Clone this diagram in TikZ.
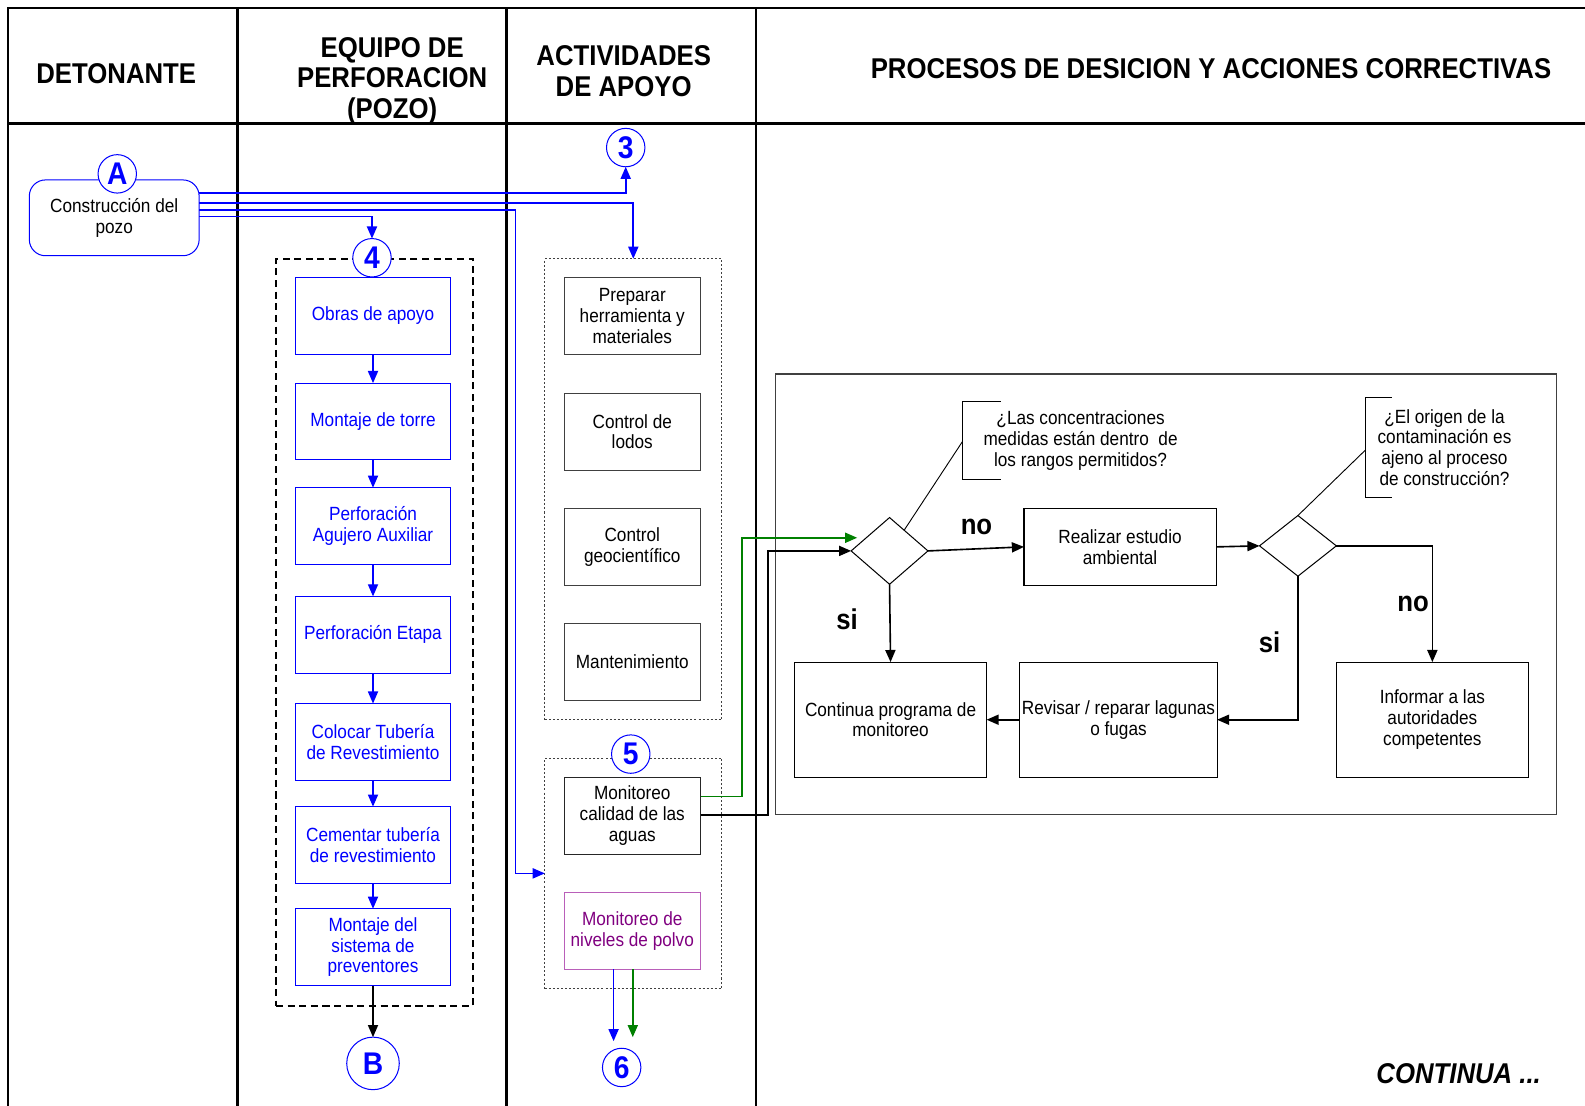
\documentclass[tikz,border=0pt]{standalone}
\usepackage{fontspec}
\setmainfont{Liberation Sans}[FakeStretch=0.9]
\usetikzlibrary{arrows.meta,calc,shapes.geometric}
\definecolor{fgreen}{RGB}{0,128,0}
\definecolor{purp}{RGB}{128,0,128}
\definecolor{purpb}{RGB}{185,95,185}
\begin{document}
\begin{tikzpicture}[x=1pt,y=-1pt,
  every node/.style={inner sep=0pt,outer sep=0pt},
  lane/.style={line width=2.4pt,line cap=rect},
  hdr/.style={font=\fontsize{28.3}{30.5}\selectfont\bfseries,align=center},
  lbl/.style={font=\fontsize{28.3}{30.5}\selectfont\bfseries},
  txt/.style={font=\fontsize{18.9}{20.5}\selectfont,align=center},
  bluebox/.style={draw=blue,line width=1pt,minimum width=154pt,minimum height=76pt,txt,text=blue},
  graybox/.style={draw=black!75,line width=1pt,minimum width=135pt,minimum height=76pt,txt},
  decbox/.style={draw=black,line width=1pt,minimum width=190pt,minimum height=114pt,txt},
  conn/.style={draw=blue,circle,fill=white,line width=1pt,minimum size=38pt,text=blue,font=\fontsize{31}{31}\selectfont\bfseries},
  dec/.style={draw=black,diamond,line width=1pt,minimum width=76pt,minimum height=66pt},
  dotbox/.style={draw=black!75,line width=0.8pt,dash pattern=on 2pt off 2pt},
  tip/.style={-{Triangle[length=12pt,width=10pt]}},
  bl/.style={draw=blue,line width=1.6pt,tip},
  bk/.style={draw=black,line width=1.6pt,tip},
  gr/.style={draw=fgreen,line width=1.6pt,tip},
]
\useasboundingbox (0,0) rectangle (1568,1094);
% lanes
\draw[lane] (8,8) -- (1568,8);
\draw[lane] (8,122) -- (1568,122);
\foreach \xx in {8,235,501,748} \draw[lane] (\xx,8) -- (\xx,1094);
% headers
\node[hdr] (h1) at (115,73) {DETONANTE};
\node[hdr] (h2) at (388,80) {EQUIPO DE\\PERFORACION\\(POZO)};
\node[hdr] (h3) at (617,70) {ACTIVIDADES\\DE APOYO};
\node[hdr] (h4) at (1198,68) {PROCESOS DE DESICION Y ACCIONES CORRECTIVAS};
% detonante
\node[draw=blue,line width=1pt,rounded corners=16pt,minimum width=168pt,minimum height=75pt,txt] (a) at (113,215.5) {Construcción del\\pozo};
\node[conn] (cA) at (116,172) {A};
% connectors
\node[conn] (c3) at (619,146) {3};
\node[draw=black,line width=1.8pt,dash pattern=on 7pt off 4.5pt,minimum width=195pt,minimum height=739pt] (eq) at (370.5,625.5) {};
\node[dotbox,minimum width=175pt,minimum height=456pt] (act1) at (626.5,484) {};
\node[dotbox,minimum width=175pt,minimum height=228pt] (act2) at (626.5,864) {};
\node[conn] (c4) at (368,255) {4};
\node[conn] (c5) at (624,746) {5};
\node[conn,minimum size=52pt] (cB) at (369,1052) {B};
\node[conn] (c6) at (615,1056) {6};
% blue boxes
\node[bluebox] (b1) at (369,312.5) {Obras de apoyo};
\node[bluebox] (b2) at (369,417) {Montaje de torre};
\node[bluebox] (b3) at (369,520.5) {Perforación\\Agujero Auxiliar};
\node[bluebox] (b4) at (369,628) {Perforación Etapa};
\node[bluebox] (b5) at (369,734) {Colocar Tubería\\de Revestimiento};
\node[bluebox] (b6) at (369,836) {Cementar tubería\\de revestimiento};
\node[bluebox] (b7) at (369,937) {Montaje del\\sistema de\\preventores};
\foreach \i/\j in {b1/b2,b2/b3,b3/b4,b4/b5,b5/b6,b6/b7} \draw[draw=blue,line width=1.4pt,tip] (\i.south) -- (\j.north);
\draw[bk,line width=1.4pt] (b7.south) -- (cB.north);
% activity boxes
\node[graybox] (g1) at (625.5,312.5) {Preparar\\herramienta y\\materiales};
\node[graybox] (g2) at (625.5,427) {Control de\\lodos};
\node[graybox] (g3) at (625.5,541) {Control\\geocientífico};
\node[graybox] (g4) at (625.5,655) {Mantenimiento};
\node[graybox,draw=black!85] (m) at (625.5,807) {Monitoreo\\calidad de las\\aguas};
\node[graybox,draw=purpb,text=purp] (p) at (625.5,921) {Monitoreo de\\niveles de polvo};
% lines from A
\draw[bl] ($(a.east)+(0,-24.5)$) -| (c3.south);
\draw[bl] ($(a.east)+(0,-14.5)$) -| (act1.north);
\draw[bl] ($(a.east)+(0,-7.5)$) -| ($(act2.west)+(-29,0)$) -- (act2.west);
\draw[bl] ($(a.east)+(0,-1.5)$) -| (c4.north);
% polvo arrows
\coordinate (pb) at ($(p.south)+(-18.5,0)$);
\coordinate (pg) at ($(p.south)+(0.5,0)$);
\coordinate (c6b) at ($(c6.north)+(0,-7)$);
\coordinate (c6g) at ($(c6.north)+(0,-11)$);
\draw[bl,line width=1.6pt] (pb) -- (pb |- c6b);
\draw[gr,line width=1.6pt] (pg) -- (pg |- c6g);
% decision frame
\node[draw=black!75,line width=1.2pt,minimum width=773pt,minimum height=436pt] (rf) at (1153.5,588) {};
\node[dec] (d1) at (880,545) {};
\node[dec,minimum height=60pt] (d2) at (1284,540) {};
\node[draw=black,line width=1pt,minimum width=190pt,minimum height=76pt,txt] (re) at (1108,541) {Realizar estudio\\ambiental};
\node[decbox] (cont) at (881,712) {Continua programa de\\monitoreo};
\node[decbox,minimum width=195pt] (rev) at (1106.5,712) {Revisar / reparar lagunas\\o fugas};
\node[decbox] (inf) at (1417,712) {Informar a las\\autoridades\\competentes};
% callouts
\node[txt] (q1) at (1069,436) {¿Las concentraciones\\medidas están dentro~ de\\los rangos permitidos?};
\node[txt] (q2) at (1429,442.5) {¿El origen de la\\contaminación es\\ajeno al proceso\\de construcción?};
\coordinate (q1b) at (952,437);
\coordinate (q2b) at (1351,445);
\draw[line width=0.9pt] (990,397) -- (952,397) -- (952,474) -- (990,474);
\draw[line width=0.9pt] (1377,393) -- (1351,393) -- (1351,492) -- (1377,492);
\draw[line width=0.9pt] ($(d1.north)!0.38!(d1.east)$) -- (q1b);
\draw[line width=0.9pt] (d2.north) -- (q2b);
% monitoreo connectors
\draw[gr] ($(m.east)+(0,-19)$) -- ++(41,0) |- ($(d1.west)+(6,-13)$);
\draw[bk] ($(m.east)+(0,-1)$) -- ++(67,0) |- (d1.west);
% decision arrows
\draw[bk] (d1.east) -- (re.west);
\draw[bk] (re.east) -- (d2.west);
\draw[bk] (d2.east) -| (inf.north);
\draw[bk] (d2.south) |- (rev.east);
\draw[bk] (rev.west) -- (cont.east);
\draw[bk] (d1.south) -- (cont.north);
% labels
\node[lbl] (no1) at (966,521) {no};
\node[lbl] (si1) at (838,613) {si};
\node[lbl] (no2) at (1398,597) {no};
\node[lbl] (si2) at (1256,635) {si};
\node[lbl,font=\fontsize{28.3}{30.5}\selectfont\bfseries\itshape] (cn) at (1443,1062) {CONTINUA ...};
\end{tikzpicture}
\end{document}
